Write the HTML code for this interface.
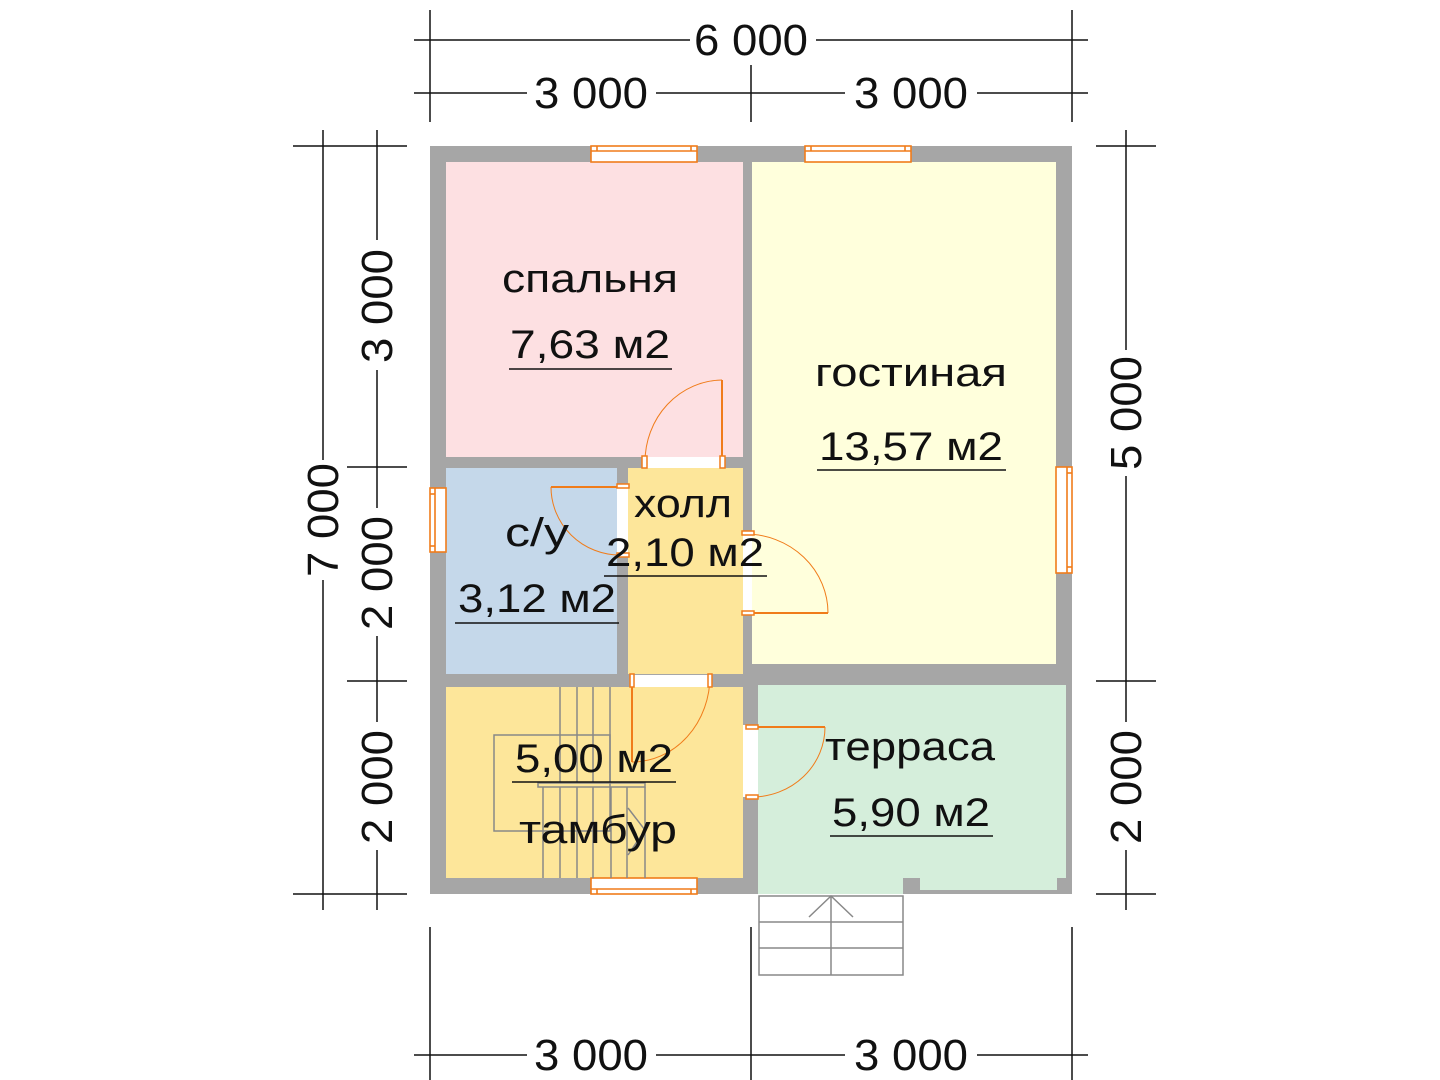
<!DOCTYPE html>
<html><head><meta charset="utf-8"><style>
html,body{margin:0;padding:0;background:#fff;}
svg{display:block;}
text{font-family:"Liberation Sans","DejaVu Sans",sans-serif;fill:#111;}
</style></head><body>
<svg width="1440" height="1080" viewBox="0 0 1440 1080" xmlns="http://www.w3.org/2000/svg">
<rect x="430" y="146" width="642" height="748" fill="#a6a6a6"/>
<rect x="446" y="162" width="297" height="295" fill="#fde0e2"/>
<rect x="752" y="162" width="304" height="502" fill="#ffffdc"/>
<rect x="446" y="468" width="171" height="206" fill="#c5d8ea"/>
<rect x="628" y="468" width="115" height="206" fill="#fde69a"/>
<rect x="446" y="687" width="297" height="191" fill="#fde69a"/>
<path d="M758 685 H1066 V878 H1057 V890 H920 V878 H903 V894 H758 Z" fill="#d5eedb"/>
<rect x="758" y="894" width="314" height="2" fill="#fff"/>

<g fill="#fff">
<rect x="643" y="457" width="82" height="11"/>
<rect x="617" y="486" width="11" height="69"/>
<rect x="743" y="533" width="9" height="81"/>
<rect x="630" y="675" width="80" height="12"/>
<rect x="743" y="725" width="15" height="72"/>
<rect x="591" y="146" width="106" height="16"/>
<rect x="805" y="146" width="106" height="16"/>
<rect x="591" y="878" width="106" height="16"/>
<rect x="430" y="488" width="16" height="64"/>
<rect x="1056" y="467" width="16" height="106"/>
</g>
<g fill="none" stroke="#f07c1a" stroke-width="1.6">
<rect x="591" y="146" width="106" height="16"/><line x1="591" y1="151" x2="697" y2="151"/><line x1="597" y1="146" x2="597" y2="151"/><line x1="691" y1="146" x2="691" y2="151"/>
<rect x="805" y="146" width="106" height="16"/><line x1="805" y1="151" x2="911" y2="151"/><line x1="811" y1="146" x2="811" y2="151"/><line x1="905" y1="146" x2="905" y2="151"/>
<rect x="591" y="878" width="106" height="16"/><line x1="591" y1="889" x2="697" y2="889"/><line x1="597" y1="889" x2="597" y2="894"/><line x1="691" y1="889" x2="691" y2="894"/>
<rect x="430" y="488" width="16" height="64"/><line x1="435" y1="488" x2="435" y2="552"/><line x1="430" y1="494" x2="435" y2="494"/><line x1="430" y1="546" x2="435" y2="546"/>
<rect x="1056" y="467" width="16" height="106"/><line x1="1067" y1="467" x2="1067" y2="573"/><line x1="1067" y1="473" x2="1072" y2="473"/><line x1="1067" y1="567" x2="1072" y2="567"/>
</g>
<g fill="none" stroke="#f07c1a">
<line x1="722" y1="380" x2="722" y2="462" stroke-width="2"/>
<path d="M722 380 A78 82 0 0 0 645 462" stroke-width="1"/>
<line x1="551" y1="487" x2="620" y2="487" stroke-width="2"/>
<path d="M551 487 A69 68 0 0 0 620 555" stroke-width="1"/>
<line x1="745" y1="613" x2="828" y2="613" stroke-width="2"/>
<path d="M828 613 A83 79 0 0 0 745 534" stroke-width="1"/>
<line x1="632" y1="676" x2="632" y2="762" stroke-width="2"/>
<path d="M632 762 A78 86 0 0 0 710 676" stroke-width="1"/>
<line x1="752" y1="727" x2="825" y2="727" stroke-width="2"/>
<path d="M825 727 A73 70 0 0 1 752 797" stroke-width="1"/>
</g>
<g fill="#fff" stroke="#f07c1a" stroke-width="1.5">
<rect x="642" y="456" width="5" height="12"/><rect x="720" y="456" width="5" height="12"/>
<rect x="617" y="484" width="12" height="4"/><rect x="617" y="553" width="12" height="4"/>
<rect x="742" y="531" width="12" height="4"/><rect x="742" y="611" width="12" height="4"/>
<rect x="630" y="674" width="4" height="13"/><rect x="708" y="674" width="4" height="13"/>
<rect x="746" y="725" width="12" height="4"/><rect x="746" y="795" width="12" height="4"/>
</g>
<g fill="none" stroke="#888" stroke-width="1.5">
<line x1="560" y1="687" x2="560" y2="783"/><line x1="577" y1="687" x2="577" y2="783"/><line x1="593" y1="687" x2="593" y2="783"/><line x1="610" y1="687" x2="610" y2="783"/>
<rect x="494" y="735" width="116" height="96"/>
<rect x="538" y="783" width="107" height="4"/>
<line x1="543" y1="787" x2="543" y2="878"/><line x1="560" y1="787" x2="560" y2="878"/><line x1="577" y1="787" x2="577" y2="878"/><line x1="593" y1="787" x2="593" y2="878"/><line x1="611" y1="787" x2="611" y2="878"/><line x1="627" y1="787" x2="627" y2="878"/><line x1="645" y1="787" x2="645" y2="878"/>
<polyline points="628,808 645,830 628,855"/>
</g>
<g fill="none" stroke="#888" stroke-width="1.5">
<rect x="759" y="896" width="144" height="79"/>
<line x1="759" y1="922" x2="903" y2="922"/><line x1="759" y1="948" x2="903" y2="948"/>
<line x1="831" y1="896" x2="831" y2="975"/>
<polyline points="809,917 831,896 853,917"/>
</g>

<g stroke="#111" stroke-width="1.5" fill="none">
<line x1="414" y1="40" x2="690" y2="40"/><line x1="816" y1="40" x2="1088" y2="40"/>
<line x1="414" y1="93" x2="527" y2="93"/><line x1="656" y1="93" x2="845" y2="93"/><line x1="977" y1="93" x2="1088" y2="93"/>
<line x1="430" y1="10" x2="430" y2="122"/><line x1="1072" y1="10" x2="1072" y2="122"/><line x1="751" y1="65" x2="751" y2="122"/>
<line x1="414" y1="1055" x2="527" y2="1055"/><line x1="656" y1="1055" x2="845" y2="1055"/><line x1="977" y1="1055" x2="1088" y2="1055"/>
<line x1="430" y1="927" x2="430" y2="1080"/><line x1="751" y1="927" x2="751" y2="1080"/><line x1="1072" y1="927" x2="1072" y2="1080"/>
<line x1="323" y1="130" x2="323" y2="460"/><line x1="323" y1="580" x2="323" y2="910"/>
<line x1="377" y1="130" x2="377" y2="240"/><line x1="377" y1="370" x2="377" y2="508"/><line x1="377" y1="636" x2="377" y2="722"/><line x1="377" y1="850" x2="377" y2="910"/>
<line x1="293" y1="146" x2="407" y2="146"/><line x1="347" y1="467" x2="407" y2="467"/><line x1="347" y1="681" x2="407" y2="681"/><line x1="293" y1="894" x2="407" y2="894"/>
<line x1="1126" y1="130" x2="1126" y2="350"/><line x1="1126" y1="476" x2="1126" y2="722"/><line x1="1126" y1="850" x2="1126" y2="910"/>
<line x1="1096" y1="146" x2="1156" y2="146"/><line x1="1096" y1="681" x2="1156" y2="681"/><line x1="1096" y1="894" x2="1156" y2="894"/>
</g>
<g font-size="44" text-anchor="middle">
<text x="751" y="55" textLength="114" lengthAdjust="spacingAndGlyphs">6 000</text>
<text x="591" y="108" textLength="114" lengthAdjust="spacingAndGlyphs">3 000</text>
<text x="911" y="108" textLength="114" lengthAdjust="spacingAndGlyphs">3 000</text>
<text x="591" y="1070" textLength="114" lengthAdjust="spacingAndGlyphs">3 000</text>
<text x="911" y="1070" textLength="114" lengthAdjust="spacingAndGlyphs">3 000</text>
<text transform="translate(338,520) rotate(-90)" textLength="114" lengthAdjust="spacingAndGlyphs">7 000</text>
<text transform="translate(392,306) rotate(-90)" textLength="114" lengthAdjust="spacingAndGlyphs">3 000</text>
<text transform="translate(392,573) rotate(-90)" textLength="114" lengthAdjust="spacingAndGlyphs">2 000</text>
<text transform="translate(392,787) rotate(-90)" textLength="114" lengthAdjust="spacingAndGlyphs">2 000</text>
<text transform="translate(1141,413) rotate(-90)" textLength="114" lengthAdjust="spacingAndGlyphs">5 000</text>
<text transform="translate(1141,787) rotate(-90)" textLength="114" lengthAdjust="spacingAndGlyphs">2 000</text>
</g>
<g font-size="40" text-anchor="middle">
<text x="590" y="292" textLength="176" lengthAdjust="spacingAndGlyphs">спальня</text>
<text x="590" y="358" textLength="160" lengthAdjust="spacingAndGlyphs">7,63 м2</text>
<text x="911" y="386" textLength="192" lengthAdjust="spacingAndGlyphs">гостиная</text>
<text x="911" y="460" textLength="184" lengthAdjust="spacingAndGlyphs">13,57 м2</text>
<text x="683" y="517" textLength="98" lengthAdjust="spacingAndGlyphs">холл</text>
<text x="685" y="566" textLength="158" lengthAdjust="spacingAndGlyphs">2,10 м2</text>
<text x="537" y="546" textLength="64" lengthAdjust="spacingAndGlyphs">с/у</text>
<text x="537" y="612" textLength="158" lengthAdjust="spacingAndGlyphs">3,12 м2</text>
<text x="594" y="772" textLength="158" lengthAdjust="spacingAndGlyphs">5,00 м2</text>
<text x="598" y="843" textLength="158" lengthAdjust="spacingAndGlyphs">тамбур</text>
<text x="910" y="760" textLength="170" lengthAdjust="spacingAndGlyphs">терраса</text>
<text x="911" y="826" textLength="158" lengthAdjust="spacingAndGlyphs">5,90 м2</text>
</g>
<g stroke="#111" stroke-width="1.5">
<line x1="509" y1="369" x2="672" y2="369"/>
<line x1="817" y1="470" x2="1006" y2="470"/>
<line x1="604" y1="576" x2="767" y2="576"/>
<line x1="455" y1="623" x2="619" y2="623"/>
<line x1="512" y1="782" x2="676" y2="782"/>
<line x1="830" y1="836" x2="993" y2="836"/>
</g>
</svg>
</body></html>
